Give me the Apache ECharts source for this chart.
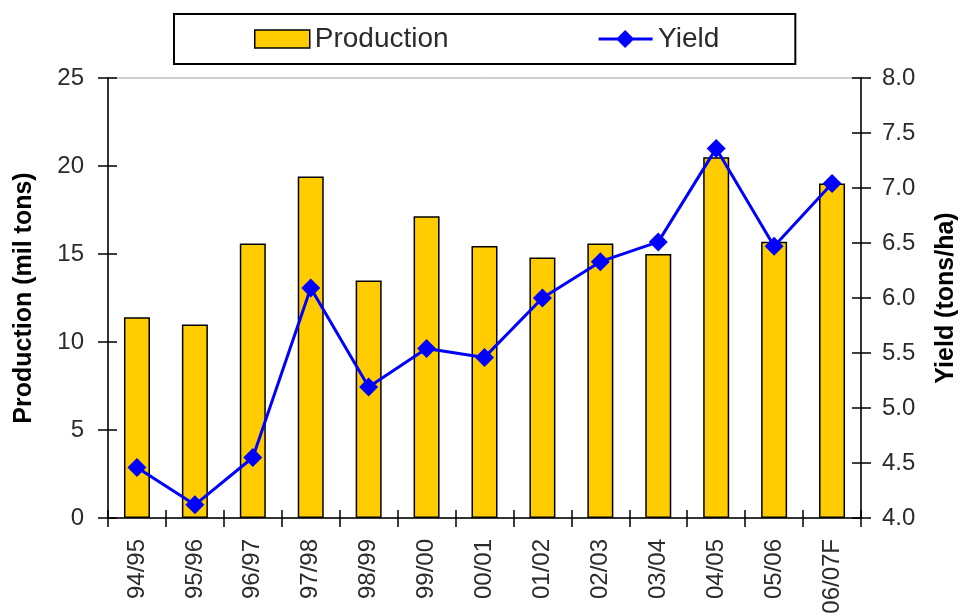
<!DOCTYPE html>
<html>
<head>
<meta charset="utf-8">
<script src="https://cdn.jsdelivr.net/npm/echarts@6/dist/echarts.min.js"></script>
<style>
  html, body { margin: 0; padding: 0; background: #fff; }
  #main { width: 960px; height: 616px; }
</style>
</head>
<body>
<div id="main"></div>
<script>
// data
var seasons = ['94/95', '95/96', '96/97', '97/98', '98/99', '99/00', '00/01', '01/02', '02/03', '03/04', '04/05', '05/06', '06/07F'];
var production = [11.4, 11.0, 15.6, 19.4, 13.5, 17.15, 15.45, 14.8, 15.6, 15.0, 20.5, 15.7, 19.0];
var yieldVals = [4.46, 4.12, 4.55, 6.09, 5.19, 5.54, 5.46, 6.0, 6.33, 6.51, 7.36, 6.47, 7.04];

var FONT = '"Liberation Sans", Arial, sans-serif';
var textCol = '#2b2b2b';

var myChart = echarts.init(document.getElementById('main'));

// hidden twin axes only give the inner half of the crossing ticks
function twinY(min, max, interval, pos) {
  return {
    type: 'value', position: pos, min: min, max: max, interval: interval,
    axisLine: { show: false },
    axisTick: { show: true, inside: true, length: 9, lineStyle: { color: '#000', width: 1.5 } },
    axisLabel: { show: false },
    splitLine: { show: false }
  };
}

// line with a diamond, as the legend key of the yield series
var yieldIcon = 'path://M0,8L20,8L28,0L36,8L57,8L57,11L36,11L28,19L20,11L0,11Z';

var option = {
  animation: false,
  textStyle: { fontFamily: FONT },
  legend: {
    data: [
      { name: 'Production', icon: 'rect', itemStyle: { color: '#FFCC00', borderColor: '#000', borderWidth: 1.5 } },
      { name: 'Yield', icon: yieldIcon, itemStyle: { color: '#0000FF', borderWidth: 0 } }
    ],
    top: 14,
    left: 174,
    padding: [11, 76, 11, 80],
    itemGap: 150,
    itemWidth: 55,
    itemHeight: 18,
    borderColor: '#000',
    borderWidth: 2,
    borderRadius: 0,
    textStyle: { fontFamily: FONT, fontSize: 28, color: textCol }
  },
  grid: {
    left: 108, right: 99, top: 78, bottom: 98,
    outerBoundsMode: 'none',
    containLabel: false,
    show: true, borderColor: '#a0a0a0', borderWidth: 1
  },
  xAxis: [
    {
      type: 'category',
      data: seasons,
      axisLine: { lineStyle: { color: '#000', width: 1.5 } },
      axisTick: { show: true, length: 9, lineStyle: { color: '#000', width: 1.5 } },
      axisLabel: { rotate: 90, fontSize: 24, color: textCol, margin: 21, interval: 0 }
    },
    {
      type: 'category',
      data: seasons,
      position: 'bottom',
      axisLine: { show: false },
      axisTick: { show: true, inside: true, length: 8, lineStyle: { color: '#000', width: 1.5 } },
      axisLabel: { show: false }
    }
  ],
  yAxis: [
    {
      type: 'value', position: 'left',
      min: 0, max: 25, interval: 5,
      name: 'Production (mil tons)',
      nameLocation: 'middle',
      nameGap: 71,
      nameRotate: 90,
      nameTextStyle: { fontFamily: FONT, fontSize: 25, fontWeight: 'bold', color: '#000' },
      axisLine: { show: true, lineStyle: { color: '#000', width: 1.5 } },
      axisTick: { show: true, length: 10, lineStyle: { color: '#000', width: 1.5 } },
      axisLabel: { fontSize: 24, color: textCol, margin: 24 },
      splitLine: { show: false }
    },
    {
      type: 'value', position: 'right',
      min: 4, max: 8, interval: 0.5,
      name: 'Yield (tons/ha)',
      nameLocation: 'middle',
      nameGap: 73,
      nameRotate: 90,
      nameTextStyle: { fontFamily: FONT, fontSize: 25, fontWeight: 'bold', color: '#000' },
      axisLine: { show: true, lineStyle: { color: '#000', width: 1.5 } },
      axisTick: { show: true, length: 10, lineStyle: { color: '#000', width: 1.5 } },
      axisLabel: { fontSize: 24, color: textCol, margin: 21, formatter: function (v) { return v.toFixed(1); } },
      splitLine: { show: false }
    },
    twinY(0, 25, 5, 'left'),
    twinY(4, 8, 0.5, 'right')
  ],
  series: [
    {
      name: 'Production',
      type: 'bar',
      data: production,
      yAxisIndex: 0,
      barWidth: 26,
      itemStyle: { color: '#FFCC00', borderColor: '#000', borderWidth: 1.5 }
    },
    {
      name: 'Yield',
      type: 'line',
      data: yieldVals,
      yAxisIndex: 1,
      symbol: 'diamond',
      symbolSize: 19,
      lineStyle: { color: '#0000FF', width: 3 },
      itemStyle: { color: '#0000FF' }
    }
  ]
};

myChart.setOption(option);
</script>
</body>
</html>
